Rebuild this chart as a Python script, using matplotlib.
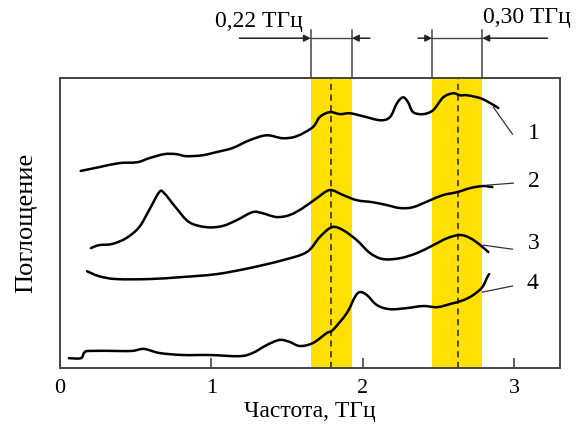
import numpy as np
import matplotlib.pyplot as plt
from matplotlib.path import Path
from matplotlib.patches import PathPatch

plt.rcParams['font.family'] = ['Liberation Serif', 'DejaVu Serif']

# frequency (THz) and absorption (arb. units) for each sample
f1 = [0.137, 0.258, 0.391, 0.510, 0.589, 0.689, 0.768, 0.834, 0.940, 1.033, 1.139, 1.252,
      1.364, 1.470, 1.563, 1.669, 1.715, 1.781, 1.848, 1.914, 2.000, 2.113, 2.179, 2.225,
      2.265, 2.298, 2.331, 2.397, 2.464, 2.530, 2.596, 2.642, 2.689, 2.775, 2.841, 2.894]
a1 = [6.80, 6.93, 7.07, 7.10, 7.24, 7.38, 7.38, 7.31, 7.34, 7.45, 7.59, 7.86,
      8.03, 7.93, 8.00, 8.31, 8.66, 8.83, 8.76, 8.79, 8.69, 8.55, 8.66, 9.14,
      9.34, 9.17, 8.83, 8.76, 8.90, 9.34, 9.48, 9.41, 9.41, 9.31, 9.14, 8.97]

f2 = [0.205, 0.258, 0.344, 0.437, 0.523, 0.589, 0.656, 0.689, 0.768, 0.854, 0.967, 1.073,
      1.166, 1.272, 1.338, 1.430, 1.517, 1.603, 1.695, 1.781, 1.868, 1.960, 2.066, 2.159,
      2.245, 2.331, 2.444, 2.530, 2.623, 2.709, 2.795, 2.854]
a2 = [4.14, 4.24, 4.28, 4.48, 4.86, 5.45, 6.07, 6.03, 5.52, 5.03, 4.86, 4.90,
      5.10, 5.38, 5.34, 5.21, 5.28, 5.52, 5.86, 6.14, 5.97, 5.79, 5.72, 5.62,
      5.52, 5.55, 5.79, 5.97, 6.07, 6.21, 6.28, 6.24]

f3 = [0.179, 0.258, 0.371, 0.589, 0.808, 1.033, 1.252, 1.470, 1.629, 1.715, 1.795, 1.868,
      1.960, 2.046, 2.132, 2.245, 2.358, 2.464, 2.556, 2.642, 2.709, 2.775, 2.828]
a3 = [3.34, 3.17, 3.07, 3.07, 3.14, 3.24, 3.45, 3.72, 4.00, 4.52, 4.86, 4.76,
      4.41, 3.97, 3.76, 3.79, 3.97, 4.24, 4.48, 4.59, 4.48, 4.24, 4.00]

f4 = [0.060, 0.139, 0.159, 0.192, 0.371, 0.477, 0.556, 0.656, 0.808, 0.987, 1.185, 1.272,
      1.364, 1.450, 1.517, 1.583, 1.669, 1.762, 1.801, 1.894, 1.947, 1.980, 2.026, 2.093,
      2.179, 2.291, 2.397, 2.490, 2.576, 2.662, 2.728, 2.788, 2.821, 2.834]
a4 = [0.34, 0.34, 0.52, 0.59, 0.59, 0.59, 0.66, 0.52, 0.45, 0.45, 0.41, 0.52,
      0.79, 0.97, 0.90, 0.76, 0.86, 1.21, 1.31, 1.90, 2.45, 2.62, 2.52, 2.17,
      2.03, 2.07, 2.14, 2.10, 2.21, 2.34, 2.52, 2.79, 3.14, 3.24]

curves = [(f1, a1), (f2, a2), (f3, a3), (f4, a4)]
labels = ['1', '2', '3', '4']
# leader lines: (start f, start a, end f, end a), label position
leaders = [(2.861, 9.00, 2.987, 8.07), (2.821, 6.31, 2.993, 6.38),
           (2.795, 4.24, 2.987, 4.10), (2.788, 2.62, 2.987, 2.83)]
label_pos = [(3.09, 8.10), (3.09, 6.45), (3.09, 4.28), (3.08, 2.93)]

# absorption bands: (left, right, centre) and width labels
bands = [(1.656, 1.927, 1.79), (2.457, 2.788, 2.63)]
band_text = ['0,22 ТГц', '0,30 ТГц']


def smooth_line(x, y):
    # bezier path passing through the points (drawn smooth like the hand-traced original)
    p = np.column_stack([x, y])
    n = len(p)
    verts = [p[0]]
    codes = [Path.MOVETO]
    for i in range(n - 1):
        p0 = p[i - 1] if i > 0 else p[i]
        p3 = p[i + 2] if i + 2 < n else p[i + 1]
        verts += [p[i] + (p[i + 1] - p0) / 6, p[i + 1] - (p3 - p[i]) / 6, p[i + 1]]
        codes += [Path.CURVE4] * 3
    return Path(verts, codes)


fig = plt.figure(figsize=(5.76, 4.25), dpi=100)
ax = fig.add_axes([0.104, 0.134, 0.868, 0.682])

for lo, hi, mid in bands:
    ax.axvspan(lo, hi, color='#FFE000', lw=0, zorder=0)
    ax.axvline(mid, color='#222222', ls=(0, (4, 3)), lw=1.1, zorder=1)

for (f, a), lab, (x0, y0, x1, y1), (lx, ly) in zip(curves, labels, leaders, label_pos):
    ax.add_patch(PathPatch(smooth_line(f, a), fill=False, ec='black', lw=1.8,
                           joinstyle='round', capstyle='round', zorder=3))
    ax.plot([x0, x1], [y0, y1], color='#333333', lw=0.9, zorder=3)
    ax.text(lx, ly, lab, fontsize=17, ha='left', va='center')

# width brackets above the axes
trans = ax.get_xaxis_transform()
yv, yh = 1.166, 1.138
arrow = dict(arrowstyle='-|>', color='#222222', lw=1.1, mutation_scale=10, shrinkA=0, shrinkB=0)
for (lo, hi, mid), far in zip(bands, [(1.185, 2.046), (2.364, 3.219)]):
    for x in (lo, hi):
        ax.plot([x, x], [1.0, yv], transform=trans, color='#444444', lw=1.1, clip_on=False)
    ax.plot([lo, hi], [yh, yh], transform=trans, color='#444444', lw=1.0, clip_on=False)
    ax.annotate('', xy=(lo, yh), xytext=(far[0], yh), xycoords=trans, textcoords=trans,
                arrowprops=arrow, annotation_clip=False)
    ax.annotate('', xy=(hi, yh), xytext=(far[1], yh), xycoords=trans, textcoords=trans,
                arrowprops=arrow, annotation_clip=False)

ax.text(1.60, 1.195, band_text[0], transform=trans, fontsize=17, ha='right', va='center')
ax.text(2.795, 1.21, band_text[1], transform=trans, fontsize=17, ha='left', va='center')

ax.set_xlim(0, 3.30)
ax.set_ylim(0, 10)
ax.set_xticks([0, 1, 2, 3])
ax.set_yticks([])
ax.tick_params(axis='x', direction='in', length=7, width=1.2, color='#444444',
               labelsize=16, pad=8)
for s in ax.spines.values():
    s.set_color('#444444')
    s.set_linewidth(1.4)

ax.set_xlabel('Частота, ТГц', fontsize=17, labelpad=2)
ax.set_ylabel('Поглощение', fontsize=19, labelpad=16)

fig.savefig('out.png', dpi=100)
